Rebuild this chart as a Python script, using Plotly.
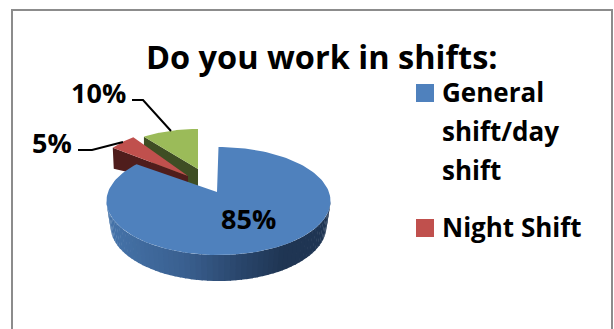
import math
import plotly.graph_objects as go

# Survey results, in drawing order around the pie (clockwise from 12 o'clock)
shift_shares = [85, 5, 10]
legend_lines = [["General", "shift/day", "shift"], ["Night Shift"]]
chart_title = "Do you work in shifts:"

W, H = 614, 329
BLUE, RED, GREEN = "#4f81bd", "#c0504d", "#9bbb59"
RED_WALL, GREEN_WALL = "#4f1d1c", "#3f4e24"
FONT = "Open Sans"

fig = go.Figure()


def fill(xs, ys, color):
    fig.add_trace(go.Scatter(x=xs, y=ys, mode="lines", fill="toself", fillcolor=color,
                             line=dict(width=0, color=color), hoverinfo="skip", showlegend=False))


def arc(cx, cy, rx, ry, a0, a1, n=80):
    # Points on an ellipse, angles in degrees clockwise from the top
    pts = [math.radians(a0 + (a1 - a0) * i / n) for i in range(n + 1)]
    return [cx + rx * math.sin(t) for t in pts], [cy - ry * math.cos(t) for t in pts]


def lerp_color(stops, f):
    for (f0, c0), (f1, c1) in zip(stops, stops[1:]):
        if f <= f1:
            k = (f - f0) / (f1 - f0)
            return "rgb(%d,%d,%d)" % tuple(c0[i] + (c1[i] - c0[i]) * k for i in range(3))
    return "rgb(%d,%d,%d)" % stops[-1][1]


# Slice spans from the shares
total = sum(shift_shares)
edges = [0]
for v in shift_shares:
    edges.append(edges[-1] + 360 * v / total)
blue_a0, blue_a1 = edges[0], edges[1]
red_a0, red_a1 = edges[1], edges[2]
green_a0, green_a1 = edges[2], edges[3]

# Green slice: wall first, then top face
gx, gy = arc(198, 169, 92, 40, green_a0, green_a1)
fill([gx[0], gx[0], 198, 198], [gy[0], gy[0] + 21, 190, 169], GREEN_WALL)
fill([198] + gx + [198], [169] + gy + [169], GREEN)

# Red slice
rx, ry = arc(188, 176, 93, 48, red_a0, red_a1)
fill([rx[0], rx[0] + 1, rx[0] + 18, 188, 188], [ry[0], ry[0] + 21, ry[0] + 25, 197, 176], RED_WALL)
fill([188] + rx + [188], [176] + ry + [176], RED)

# Blue slice: rim as shaded strips, then the top face
CX, CY, RX, RY = 218.5, 201, 112, 54
BCX, BCY, BRX, BRY = 218.5, 226, 108, 55
SWEEP = 313 / 306
APEX = (217, 192)
stops = [(0, (70, 116, 170)), (0.35, (58, 96, 144)), (0.6, (42, 70, 108)),
         (0.8, (31, 53, 83)), (1, (31, 53, 83))]
STRIPS = 60
for i in range(STRIPS):
    a0 = 270 - 180 * i / STRIPS
    a1 = 270 - 180 * (i + 1) / STRIPS - 0.6
    tx, ty = arc(CX, CY, RX, RY, a0, a1, 4)
    bx, by = arc(BCX, BCY, BRX, BRY, a1, a0, 4)
    mid = (tx[2] - (CX - RX)) / (2 * RX)
    fill(tx + bx + [tx[0]], ty + by + [ty[0]], lerp_color(stops, mid))

bx, by = arc(CX, CY, RX, RY, blue_a0 * SWEEP, blue_a1 * SWEEP, 160)
fill([APEX[0]] + bx + [APEX[0]], [APEX[1]] + by + [APEX[1]], BLUE)

# Leader lines for the two small slices
for xs, ys in [([132, 143, 171], [100, 100, 131]), ([78, 92, 123], [150, 150, 142])]:
    fig.add_trace(go.Scatter(x=xs, y=ys, mode="lines", line=dict(color="black", width=2),
                             hoverinfo="skip", showlegend=False))

annotations = []


def text(x, y, s, size, anchor="center"):
    annotations.append(dict(x=x, y=y, text="<b>%s</b>" % s, showarrow=False, xanchor=anchor,
                            yanchor="middle", xref="x", yref="y",
                            font=dict(family=FONT, size=size, color="black")))


text(322, 56, chart_title, 32.5)
text(248, 218, "%d%%" % shift_shares[0], 27)
text(52, 142, "%d%%" % shift_shares[1], 27)
text(98, 92, "%d%%" % shift_shares[2], 27)

# Legend, with one swatch per entry
for s, yy in zip(legend_lines[0], [92, 131, 170]):
    text(440, yy, s, 26, "left")
text(440, 227, legend_lines[1][0], 26, "left")

fig.add_trace(go.Scatter(x=[425, 425], y=[93, 228], mode="markers",
                         marker=dict(symbol="square", size=18, color=[BLUE, RED], line=dict(width=0)),
                         hoverinfo="skip", showlegend=False))

fig.update_layout(
    width=W, height=H, margin=dict(l=0, r=0, t=0, b=0),
    paper_bgcolor="white", plot_bgcolor="white", showlegend=False,
    xaxis=dict(range=[0, W], visible=False, fixedrange=True),
    yaxis=dict(range=[H, 0], visible=False, fixedrange=True),
    annotations=annotations,
    shapes=[dict(type="rect", xref="x", yref="y", x0=12, y0=10, x1=612, y1=345,
                 line=dict(color="#8c8c8c", width=2), layer="below")],
)

fig.write_html("out.html", config=dict(displayModeBar=False))
